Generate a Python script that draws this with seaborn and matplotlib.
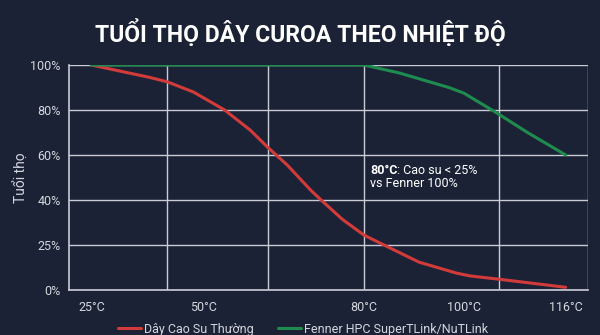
import numpy as np
import pandas as pd
import matplotlib
matplotlib.use("Agg")
import matplotlib.pyplot as plt
import seaborn as sns

# ---- data ----
rubber_temp = [25, 38, 42, 47.8, 54, 58.8, 62, 65.7, 70, 72, 76, 80, 84, 91, 98.5, 101, 105.5, 116]
rubber_life = [100, 94.5, 92.5, 88, 80, 71, 63.5, 55.5, 44.5, 40, 33.5, 28.3, 25, 15.5, 9.4, 7.8, 6, 1.5]

fenner_temp = [25, 80, 87, 97, 100, 105, 110, 116]
fenner_life = [100, 100, 96.5, 90, 87.5, 79, 70, 60]

series_names = ["Dây Cao Su Thường", "Fenner HPC SuperTLink/NuTLink"]
x_ticks = [25, 50, 80, 100, 116]
x_ticklabels = ["25°C", "50°C", "80°C", "100°C", "116°C"]
x_grid = [42, 62, 80, 105.5]
y_ticks = [0, 25, 40, 60, 80, 100]
y_ticklabels = ["0%", "25%", "40%", "60%", "80%", "100%"]

# the original chart spaces both axes unevenly -> piecewise-linear scales
x_anchor_val = [-100, 25, 50, 80, 100, 116, 300]
x_anchor_pos = [-560, 0, 112, 273, 373, 475, 1648]
y_anchor_val = [-100, 0, 25, 40, 60, 80, 100, 300]
y_anchor_pos = [-4, 0, 1, 2, 3, 4, 5, 15]

def x_fwd(v):
    return np.interp(v, x_anchor_val, x_anchor_pos)

def x_inv(p):
    return np.interp(p, x_anchor_pos, x_anchor_val)

def y_fwd(v):
    return np.interp(v, y_anchor_val, y_anchor_pos)

def y_inv(p):
    return np.interp(p, y_anchor_pos, y_anchor_val)

df = pd.concat([
    pd.DataFrame({"temp": rubber_temp, "life": rubber_life, "type": series_names[0]}),
    pd.DataFrame({"temp": fenner_temp, "life": fenner_life, "type": series_names[1]}),
])

bg = "#1c2235"
txt = "#d4d7df"
grid_c = "#c9ccd4"

sns.set_theme(style="dark")
plt.rcParams["font.family"] = ["Roboto", "DejaVu Sans"]

fig = plt.figure(figsize=(6, 3.35), dpi=100, facecolor=bg)
ax = fig.add_axes([69 / 600, 1 - 290 / 335, (588 - 69) / 600, (290 - 65) / 335])
ax.set_facecolor(bg)

ax.set_xscale("function", functions=(x_fwd, x_inv))
ax.set_yscale("function", functions=(y_fwd, y_inv))

sns.lineplot(data=df, x="temp", y="life", hue="type", sort=False,
             palette=["#d33b3b", "#1f8c4f"], linewidth=2.2, ax=ax, zorder=3,
             solid_joinstyle="round", solid_capstyle="round")

ax.set_xlim(20, 119.5)
ax.set_ylim(0, 100)

ax.set_yticks(y_ticks)
ax.set_yticklabels(y_ticklabels)
ax.set_xticks(x_ticks)
ax.set_xticklabels(x_ticklabels)
ax.tick_params(length=0, colors=txt, labelsize=9)
ax.tick_params(axis="y", pad=6)
ax.tick_params(axis="x", pad=8)

for y in y_ticks:
    ax.axhline(y, color=grid_c, lw=1.0, zorder=1)
for x in x_grid + [119.5]:
    ax.axvline(x, color=grid_c, lw=1.0, zorder=1)
ax.grid(False)

for s in ["top", "right"]:
    ax.spines[s].set_visible(False)
for s in ["left", "bottom"]:
    ax.spines[s].set_color(grid_c)
    ax.spines[s].set_linewidth(1.2)

ax.set_xlabel("")
ax.set_ylabel("Tuổi thọ", color=txt, fontsize=10)
ax.yaxis.set_label_coords(-0.077, 0.5)

# annotation
t1 = ax.text(81.2, 53.3, "80°C", color="white", fontsize=9, fontweight="bold",
             va="center", ha="left", zorder=4)
ax.annotate(": Cao su < 25%", xy=(1, 0.5), xycoords=t1, va="center", ha="left",
            color="white", fontsize=9, zorder=4)
ax.text(81.2, 47.2, "vs Fenner 100%", color="white", fontsize=9,
        va="center", ha="left", zorder=4)

fig.text(0.5, 1 - 33 / 335, "TUỔI THỌ DÂY CUROA THEO NHIỆT ĐỘ", color="white",
         fontsize=16.6, fontweight="bold", ha="center", va="center")

sns.move_legend(ax, "center", bbox_to_anchor=(0.505, 1 - 329 / 335),
                bbox_transform=fig.transFigure, ncol=2, frameon=False, title=None,
                fontsize=9, handlelength=1.85, handletextpad=0.2, columnspacing=2.0,
                labelcolor=txt)

fig.savefig("out.png", dpi=100, facecolor=bg)
